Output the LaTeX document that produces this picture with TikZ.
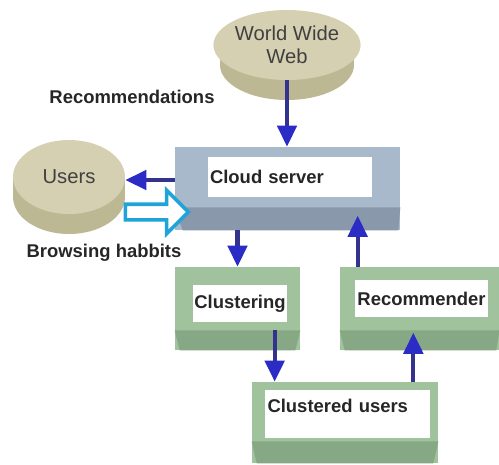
\documentclass[tikz,border=0pt]{standalone}
\usepackage{fontspec}
\setmainfont{Liberation Sans}
\usetikzlibrary{calc, positioning, shapes.geometric, shapes.arrows, arrows.meta}
\definecolor{disktop}{HTML}{D5D0B1}
\definecolor{diskside}{HTML}{BDB894}
\definecolor{cloudtop}{HTML}{A9B9CC}
\definecolor{cloudside}{HTML}{8A98AB}
\definecolor{greentop}{HTML}{A0C29C}
\definecolor{greenside}{HTML}{87A885}
\definecolor{shaftblue}{HTML}{33338F}
\definecolor{headblue}{HTML}{2B2BC6}
\definecolor{cyanblue}{HTML}{1FA3D8}

\begin{document}
\begin{tikzpicture}[
    x=0.02cm, y=-0.02cm,
    every node/.style={inner sep=0pt},
    disk/.style={ellipse, fill=disktop, font=\fontsize{11.5}{13}\selectfont, text=black!75, align=center},
    block/.style={rectangle, minimum height=1.66cm},
    face/.style={rectangle, fill=white, inner xsep=1pt, font=\fontsize{10.5}{12}\selectfont\bfseries, text=black!85},
    caption/.style={font=\fontsize{10.5}{12}\selectfont\bfseries, text=black!85},
    arrow/.style={-{Triangle[width=11pt, length=12pt, color=headblue]}, line width=2.3pt, draw=shaftblue},
    hollow/.style={single arrow, draw=cyanblue, line width=2pt, fill=white, minimum height=1.26cm, inner ysep=0.12cm, single arrow head extend=0.28cm}
]
\useasboundingbox (0,0) rectangle (499,464);

% disks
\fill[diskside] (287,65) ellipse [x radius=1.34cm, y radius=0.7cm];
\fill[diskside] (220,45) rectangle (354,65);
\node[disk, minimum width=2.68cm, minimum height=1.4cm] (www) at (287,45) {World Wide\\Web};

\fill[diskside] (69,197) ellipse [x radius=1.12cm, y radius=0.74cm];
\fill[diskside] (13,177) rectangle (125,197);
\node[disk, minimum width=2.24cm, minimum height=1.48cm] (users) at (69,177) {Users};

% boxes
\node[block, fill=cloudtop, minimum width=4.5cm] (cloud) at (287.5,188.5) {};
\fill[cloudside] ($(cloud.south west)+(0,-23)$) -- ($(cloud.south east)+(0,-23)$) -- ($(cloud.south east)+(-2,0)$) -- ($(cloud.south west)+(8,0)$) -- cycle;
\node[face, minimum width=3.28cm, minimum height=0.8cm, text width=3.2cm, align=left] (cloudlbl) at (290,177) {Cloud server};

\node[block, fill=greentop, minimum width=2.5cm] (clustering) at (237.5,308.5) {};
\fill[greenside] ($(clustering.south west)+(0,-20)$) -- ($(clustering.south east)+(0,-20)$) -- ($(clustering.south east)+(-5,0)$) -- ($(clustering.south west)+(5,0)$) -- cycle;
\node[face, minimum width=1.88cm, minimum height=0.74cm] (clusteringlbl) at (240,303.5) {Clustering};

\node[block, fill=greentop, minimum width=3.18cm] (recommender) at (419.5,308.5) {};
\fill[greenside] ($(recommender.south west)+(0,-20)$) -- ($(recommender.south east)+(0,-20)$) -- ($(recommender.south east)+(-3,0)$) -- ($(recommender.south west)+(5,0)$) -- cycle;
\node[face, minimum width=2.66cm, minimum height=0.74cm] (recommenderlbl) at (421.5,298.5) {Recommender};

\node[block, fill=greentop, minimum width=3.72cm, minimum height=1.62cm] (clustered) at (345,422.5) {};
\fill[greenside] ($(clustered.south west)+(0,-22)$) -- ($(clustered.south east)+(0,-22)$) -- ($(clustered.south east)+(-5,0)$) -- ($(clustered.south west)+(5,0)$) -- cycle;
\node[face, minimum width=3.3cm, minimum height=0.96cm, text width=3.2cm, align=left, inner ysep=5pt, text depth=9pt] (clusteredlbl) at (347.5,414) {Clustered users};

% labels
\node[caption] (reclbl) at (132,97) {Recommendations};
\node[caption] (browselbl) at (104,253) {Browsing habbits};

% connectors
\draw[arrow] (www.south) -- (cloud.north -| www.south);
\draw[arrow] ([yshift=-0.06cm]cloud.west |- users.east) -- ([yshift=-0.06cm]users.east);
\node[hollow] (habits) at (153,212) {};
\draw[arrow] (clustering.north |- cloud.south) -- (clustering.north);
\draw[arrow] ($(recommender.north west)+(18,0)$) -- ($(recommender.north west)+(18,-51)$);
\draw[arrow] ($(clustered.north west)+(23,-52)$) -- ($(clustered.north west)+(23,0)$);
\draw[arrow] ($(clustered.north east)+(-25,0)$) -- ($(clustered.north east)+(-25,-49)$);

\end{tikzpicture}
\end{document}
